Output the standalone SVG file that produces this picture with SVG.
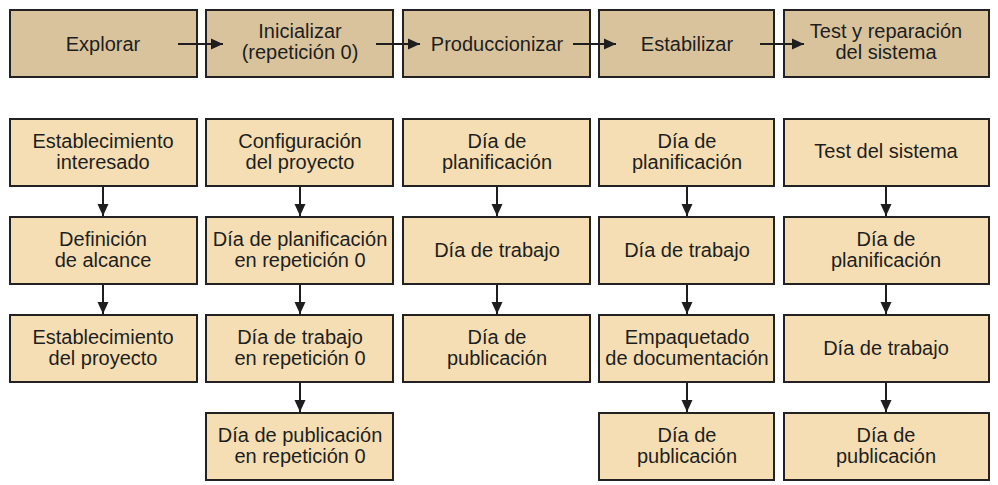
<svg xmlns="http://www.w3.org/2000/svg" width="998" height="485" viewBox="0 0 998 485">
<defs>
<style>
.top rect{fill:#D8C39D;stroke:#222;stroke-width:2}
.bot rect{fill:#F5DEB3;stroke:#222;stroke-width:2}
text{font-family:"Liberation Sans",Arial,sans-serif;font-size:20px;fill:#1e1e1e;text-anchor:middle}
.c line{stroke:#1e1e1e;stroke-width:2;marker-end:url(#ah)}
</style>
<marker id="ah" markerUnits="userSpaceOnUse" markerWidth="14" markerHeight="14" viewBox="0 0 14 14" refX="13" refY="7" orient="auto">
<path d="M1,1.5 L13,7 L1,12.5 Z" fill="#1e1e1e"/>
</marker>
</defs>
<rect width="998" height="485" fill="#fff"/>
<g id="explorar" class="top"><rect x="10" y="10" width="187" height="67"/><text x="103" y="51">Explorar</text></g>
<g id="inicializar" class="top"><rect x="206" y="10" width="187" height="67"/><text x="300" y="38">Inicializar</text><text x="300" y="59">(repetición 0)</text></g>
<g id="producionizar" class="top"><rect x="403" y="10" width="187" height="67"/><text x="497" y="51">Produccionizar</text></g>
<g id="estabilizar" class="top"><rect x="599" y="10" width="175" height="67"/><text x="687" y="51">Estabilizar</text></g>
<g id="test" class="top"><rect x="784" y="10" width="205" height="67"/><text x="886" y="38">Test y reparación</text><text x="886" y="59">del sistema</text></g>

<g id="c1r1" class="bot"><rect x="10" y="119" width="187" height="67"/><text x="103" y="148">Establecimiento</text><text x="103" y="169">interesado</text></g>
<g id="c1r2" class="bot"><rect x="10" y="217" width="187" height="67"/><text x="103" y="246">Definición</text><text x="103" y="267">de alcance</text></g>
<g id="c1r3" class="bot"><rect x="10" y="315" width="187" height="67"/><text x="103" y="344">Establecimiento</text><text x="103" y="365">del proyecto</text></g>

<g id="c2r1" class="bot"><rect x="206" y="119" width="187" height="67"/><text x="300" y="148">Configuración</text><text x="300" y="169">del proyecto</text></g>
<g id="c2r2" class="bot"><rect x="206" y="217" width="187" height="67"/><text x="300" y="246">Día de planificación</text><text x="300" y="267">en repetición 0</text></g>
<g id="c2r3" class="bot"><rect x="206" y="315" width="187" height="67"/><text x="300" y="344">Día de trabajo</text><text x="300" y="365">en repetición 0</text></g>
<g id="c2r4" class="bot"><rect x="206" y="413" width="187" height="67"/><text x="300" y="442">Día de publicación</text><text x="300" y="463">en repetición 0</text></g>

<g id="c3r1" class="bot"><rect x="403" y="119" width="187" height="67"/><text x="497" y="148">Día de</text><text x="497" y="169">planificación</text></g>
<g id="c3r2" class="bot"><rect x="403" y="217" width="187" height="67"/><text x="497" y="257">Día de trabajo</text></g>
<g id="c3r3" class="bot"><rect x="403" y="315" width="187" height="67"/><text x="497" y="344">Día de</text><text x="497" y="365">publicación</text></g>

<g id="c4r1" class="bot"><rect x="599" y="119" width="175" height="67"/><text x="687" y="148">Día de</text><text x="687" y="169">planificación</text></g>
<g id="c4r2" class="bot"><rect x="599" y="217" width="175" height="67"/><text x="687" y="257">Día de trabajo</text></g>
<g id="c4r3" class="bot"><rect x="599" y="315" width="175" height="67"/><text x="687" y="344">Empaquetado</text><text x="687" y="365">de documentación</text></g>
<g id="c4r4" class="bot"><rect x="599" y="413" width="175" height="67"/><text x="687" y="442">Día de</text><text x="687" y="463">publicación</text></g>

<g id="c5r1" class="bot"><rect x="784" y="119" width="205" height="67"/><text x="886" y="158">Test del sistema</text></g>
<g id="c5r2" class="bot"><rect x="784" y="217" width="205" height="67"/><text x="886" y="246">Día de</text><text x="886" y="267">planificación</text></g>
<g id="c5r3" class="bot"><rect x="784" y="315" width="205" height="67"/><text x="886" y="355">Día de trabajo</text></g>
<g id="c5r4" class="bot"><rect x="784" y="413" width="205" height="67"/><text x="886" y="442">Día de</text><text x="886" y="463">publicación</text></g>

<g id="connectors" class="c">
<line x1="178" y1="44" x2="223" y2="44"/>
<line x1="376" y1="44" x2="420" y2="44"/>
<line x1="573" y1="44" x2="616" y2="44"/>
<line x1="760" y1="44" x2="804" y2="44"/>

<line x1="103" y1="187" x2="103" y2="216"/>
<line x1="103" y1="285" x2="103" y2="314"/>

<line x1="300" y1="187" x2="300" y2="216"/>
<line x1="300" y1="285" x2="300" y2="314"/>
<line x1="300" y1="383" x2="300" y2="412"/>

<line x1="497" y1="187" x2="497" y2="216"/>
<line x1="497" y1="285" x2="497" y2="314"/>

<line x1="687" y1="187" x2="687" y2="216"/>
<line x1="687" y1="285" x2="687" y2="314"/>
<line x1="687" y1="383" x2="687" y2="412"/>

<line x1="886" y1="187" x2="886" y2="216"/>
<line x1="886" y1="285" x2="886" y2="314"/>
<line x1="886" y1="383" x2="886" y2="412"/>
</g>
</svg>
